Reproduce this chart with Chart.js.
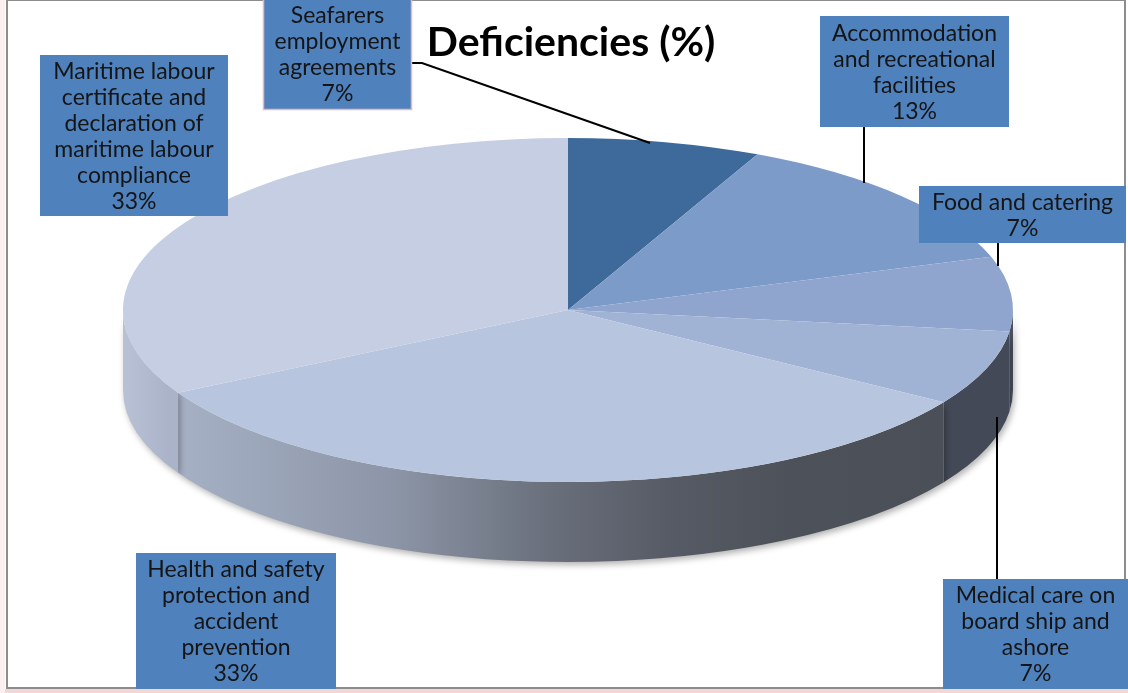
<!DOCTYPE html>
<html>
<head>
<meta charset="utf-8">
<script src="https://cdn.jsdelivr.net/npm/chart.js@4/dist/chart.umd.min.js"></script>
<style>
  html, body { margin: 0; padding: 0; background: #ffffff; }
  #wrap { width: 1128px; height: 693px; position: relative; }
</style>
</head>
<body>
<div id="wrap"><canvas id="c" width="1128" height="693"></canvas></div>
<script>
// ---- data ----
const chartTitle = 'Deficiencies (%)';
const categories = [
  'Seafarers employment agreements',
  'Accommodation and recreational facilities',
  'Food and catering',
  'Medical care on board ship and ashore',
  'Health and safety protection and accident prevention',
  'Maritime labour certificate and declaration of maritime labour compliance'
];
const values = [7, 13, 7, 7, 33, 33];
const labelLines = [
  ['Seafarers', 'employment', 'agreements'],
  ['Accommodation', 'and recreational', 'facilities'],
  ['Food and catering'],
  ['Medical care on', 'board ship and', 'ashore'],
  ['Health and safety', 'protection and', 'accident', 'prevention'],
  ['Maritime labour', 'certificate and', 'declaration of', 'maritime labour', 'compliance']
];

// ---- styles / layout ----
const topColors = ['#3E6A9B', '#7D9BC8', '#8FA5CE', '#A0B3D5', '#B8C5DF', '#C5CEE2'];
const CX = 568, CY = 310, RX = 445, RY = 172, DEPTH = 80;
const boxes = [
  {x: 263, y: -2, w: 149, h: 112, border: '#E6B8B7'},
  {x: 820, y: 16, w: 189, h: 111},
  {x: 919, y: 186, w: 207, h: 57},
  {x: 943, y: 579, w: 185, h: 110},
  {x: 136, y: 553, w: 200, h: 136},
  {x: 40, y: 55, w: 188, h: 161}
];
const leaders = [
  [[412, 63], [422, 63], [650, 143]],
  [[864, 127], [864, 183]],
  [[998, 243], [998, 266]],
  [[997, 417], [997, 579]],
  null,
  null
];
const LABEL_FONT = '23px Lato';
const LINE_H = 26;

function sideFill(ctx, i) {
  if (i === 5) {
    const g = ctx.createLinearGradient(CX - RX, 0, CX - RX + 45, 0);
    g.addColorStop(0, '#B9C2D5');
    g.addColorStop(1, '#AAB3C8');
    return g;
  }
  if (i === 3) return '#434957';
  if (i === 2) return '#4A5060';
  const g = ctx.createLinearGradient(CX - RX, 0, CX + RX, 0);
  g.addColorStop(0.00, '#AEB8CC');
  g.addColorStop(0.10, '#A2ACC0');
  g.addColorStop(0.30, '#8D96A8');
  g.addColorStop(0.47, '#6B717D');
  g.addColorStop(0.62, '#555A64');
  g.addColorStop(0.75, '#4D5159');
  g.addColorStop(1.00, '#4A4E57');
  return g;
}

const frame = {
  id: 'frame',
  beforeDraw(chart) {
    const ctx = chart.ctx;
    ctx.save();
    ctx.fillStyle = '#F3D6D6';
    ctx.fillRect(0, 689, 1128, 4);
    ctx.fillStyle = '#FBEFEF';
    ctx.fillRect(0, 0, 5, 693);
    ctx.strokeStyle = '#8C8C8C';
    ctx.lineWidth = 2;
    ctx.strokeRect(7, 0, 1118, 688);
    ctx.restore();
  }
};

const pie3d = {
  id: 'pie3d',
  beforeDatasetsDraw(chart) {
    const ctx = chart.ctx;
    const meta = chart.getDatasetMeta(0);
    // depth (side walls) of the visible front half
    meta.data.forEach((arc, i) => {
      const p = arc.getProps(['startAngle', 'endAngle'], true);
      const a = Math.max(p.startAngle, 0);
      const b = Math.min(p.endAngle, Math.PI);
      if (b <= a) return;
      ctx.save();
      ctx.shadowColor = 'rgba(0,0,0,0.30)';
      ctx.shadowBlur = 6;
      ctx.shadowOffsetX = 2;
      ctx.shadowOffsetY = 3;
      ctx.beginPath();
      ctx.ellipse(CX, CY, RX, RY, 0, a, b, false);
      ctx.ellipse(CX, CY + DEPTH, RX, RY, 0, b, a, true);
      ctx.closePath();
      ctx.fillStyle = sideFill(ctx, i);
      ctx.fill();
      ctx.restore();
    });
    // squash the library-drawn pie into the tilted top face
    const arc0 = meta.data[0];
    const R = arc0.outerRadius;
    ctx.save();
    ctx.translate(CX, CY);
    ctx.scale(RX / R, RY / R);
    ctx.translate(-arc0.x, -arc0.y);
  },
  afterDatasetsDraw(chart) {
    chart.ctx.restore();
  },
  afterDraw(chart) {
    const ctx = chart.ctx;
    ctx.save();
    // leader lines
    ctx.strokeStyle = '#000000';
    ctx.lineWidth = 2;
    leaders.forEach(pts => {
      if (!pts) return;
      ctx.beginPath();
      ctx.moveTo(pts[0][0], pts[0][1]);
      for (let k = 1; k < pts.length; k++) ctx.lineTo(pts[k][0], pts[k][1]);
      ctx.stroke();
    });
    // label boxes
    ctx.font = LABEL_FONT;
    ctx.textAlign = 'center';
    ctx.textBaseline = 'middle';
    boxes.forEach((bx, i) => {
      ctx.fillStyle = '#4F81BD';
      ctx.fillRect(bx.x, bx.y, bx.w, bx.h);
      if (bx.border) {
        ctx.strokeStyle = bx.border;
        ctx.lineWidth = 1.5;
        ctx.strokeRect(bx.x + 0.5, bx.y + 0.5, bx.w - 1, bx.h - 1);
      }
      const lines = labelLines[i].concat([values[i] + '%']);
      const total = lines.length * LINE_H;
      const y0 = bx.y + (bx.h - total) / 2 + LINE_H / 2 + 1;
      ctx.fillStyle = '#151515';
      lines.forEach((ln, k) => ctx.fillText(ln, bx.x + bx.w / 2, y0 + k * LINE_H));
    });
    // title
    ctx.font = 'bold 41px Lato';
    ctx.fillStyle = '#000000';
    ctx.fillText(chartTitle, 571, 43);
    ctx.restore();
  }
};

new Chart(document.getElementById('c'), {
  type: 'pie',
  data: {
    labels: categories,
    datasets: [{
      data: values,
      backgroundColor: topColors,
      borderWidth: 0,
      hoverOffset: 0,
      clip: false
    }]
  },
  options: {
    responsive: false,
    animation: false,
    events: [],
    layout: { padding: 0 },
    plugins: {
      legend: { display: false },
      tooltip: { enabled: false },
      title: { display: false }
    }
  },
  plugins: [frame, pie3d]
});
</script>
</body>
</html>
